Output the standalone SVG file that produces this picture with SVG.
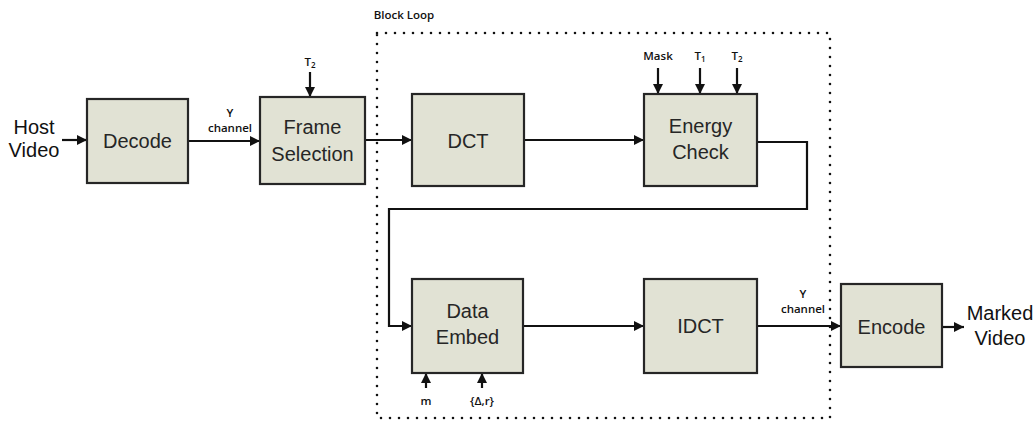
<svg xmlns="http://www.w3.org/2000/svg" width="1036" height="424" viewBox="0 0 1036 424">
  <style>
    .box { fill: #e1e2d4; stroke: #262626; stroke-width: 2.2; }
    .lbl { font-family: "Liberation Sans", Arial, sans-serif; font-size: 20px; fill: #262626; text-anchor: middle; }
    .io { font-family: "Liberation Sans", Arial, sans-serif; font-size: 20px; fill: #111; text-anchor: middle; }
    .small { font-family: "Open Sans", "DejaVu Sans", sans-serif; font-size: 11.5px; font-weight: 600; fill: #111; text-anchor: middle; }
    .wire { fill: none; stroke: #111; stroke-width: 2.2; }
    .loop { fill: none; stroke: #111; stroke-width: 2.6; stroke-linecap: round; stroke-dasharray: 0 9; }
  </style>
  <defs>
    <marker id="arrowL" viewBox="0 0 10 10" refX="10" refY="5" markerWidth="11" markerHeight="10" orient="auto" markerUnits="userSpaceOnUse">
      <path d="M0,0 L10,5 L0,10 z" fill="#111"/>
    </marker>
  </defs>

  <rect width="1036" height="424" fill="#ffffff"/>

  <!-- block loop boundary -->
  <g id="block-loop">
    <rect class="loop" x="377" y="33" width="453" height="385"/>
    <text class="small" x="404" y="19">Block Loop</text>
  </g>

  <!-- connectors -->
  <g id="connectors">
    <line class="wire" x1="62" y1="140" x2="87" y2="140" marker-end="url(#arrowL)"/>
    <line class="wire" x1="188" y1="141" x2="260" y2="141" marker-end="url(#arrowL)"/>
    <line class="wire" x1="365" y1="140" x2="412" y2="140" marker-end="url(#arrowL)"/>
    <line class="wire" x1="524" y1="140" x2="644" y2="140" marker-end="url(#arrowL)"/>
    <polyline class="wire" points="757,142 807,142 807,209 389,209 389,326 412,326" marker-end="url(#arrowL)"/>
    <line class="wire" x1="523" y1="326" x2="644" y2="326" marker-end="url(#arrowL)"/>
    <line class="wire" x1="757" y1="326" x2="841" y2="326" marker-end="url(#arrowL)"/>
    <line class="wire" x1="942" y1="327" x2="964" y2="327" marker-end="url(#arrowL)"/>
    <!-- parameter inputs -->
    <line class="wire" x1="310" y1="72" x2="310" y2="97" marker-end="url(#arrowL)"/>
    <line class="wire" x1="658" y1="68" x2="658" y2="94" marker-end="url(#arrowL)"/>
    <line class="wire" x1="700" y1="68" x2="700" y2="94" marker-end="url(#arrowL)"/>
    <line class="wire" x1="737" y1="68" x2="737" y2="94" marker-end="url(#arrowL)"/>
    <line class="wire" x1="426" y1="388" x2="426" y2="373" marker-end="url(#arrowL)"/>
    <line class="wire" x1="482" y1="388" x2="482" y2="373" marker-end="url(#arrowL)"/>
  </g>

  <!-- connector labels -->
  <g id="labels">
    <text class="small" x="230" y="117">Y</text>
    <text class="small" x="230" y="132">channel</text>
    <text class="small" x="803" y="298">Y</text>
    <text class="small" x="803" y="313">channel</text>
    <text class="small" x="310" y="66">T<tspan font-size="8" dy="2">2</tspan></text>
    <text class="small" x="658" y="60">Mask</text>
    <text class="small" x="700" y="60">T<tspan font-size="8" dy="2">1</tspan></text>
    <text class="small" x="737" y="60">T<tspan font-size="8" dy="2">2</tspan></text>
    <text class="small" x="426" y="405">m</text>
    <text class="small" x="482" y="405">{Δ,r}</text>
  </g>

  <g id="host-video">
    <text class="io" x="34" y="134">Host</text>
    <text class="io" x="34" y="157">Video</text>
  </g>

  <g id="decode">
    <rect class="box" x="87" y="99" width="101" height="84"/>
    <text class="lbl" x="137.5" y="148">Decode</text>
  </g>

  <g id="frame-selection">
    <rect class="box" x="260" y="97" width="105" height="87"/>
    <text class="lbl" x="312.5" y="134">Frame</text>
    <text class="lbl" x="312.5" y="161">Selection</text>
  </g>

  <g id="dct">
    <rect class="box" x="412" y="94" width="112" height="92"/>
    <text class="lbl" x="468" y="148">DCT</text>
  </g>

  <g id="energy-check">
    <rect class="box" x="644" y="94" width="113" height="92"/>
    <text class="lbl" x="700.5" y="133">Energy</text>
    <text class="lbl" x="700.5" y="159">Check</text>
  </g>

  <g id="data-embed">
    <rect class="box" x="412" y="279" width="111" height="94"/>
    <text class="lbl" x="467.5" y="318">Data</text>
    <text class="lbl" x="467.5" y="344">Embed</text>
  </g>

  <g id="idct">
    <rect class="box" x="644" y="279" width="113" height="94"/>
    <text class="lbl" x="700.5" y="333">IDCT</text>
  </g>

  <g id="encode">
    <rect class="box" x="841" y="284" width="101" height="83"/>
    <text class="lbl" x="891.5" y="334">Encode</text>
  </g>

  <g id="marked-video">
    <text class="io" x="1000" y="320">Marked</text>
    <text class="io" x="1000" y="345">Video</text>
  </g>
</svg>
